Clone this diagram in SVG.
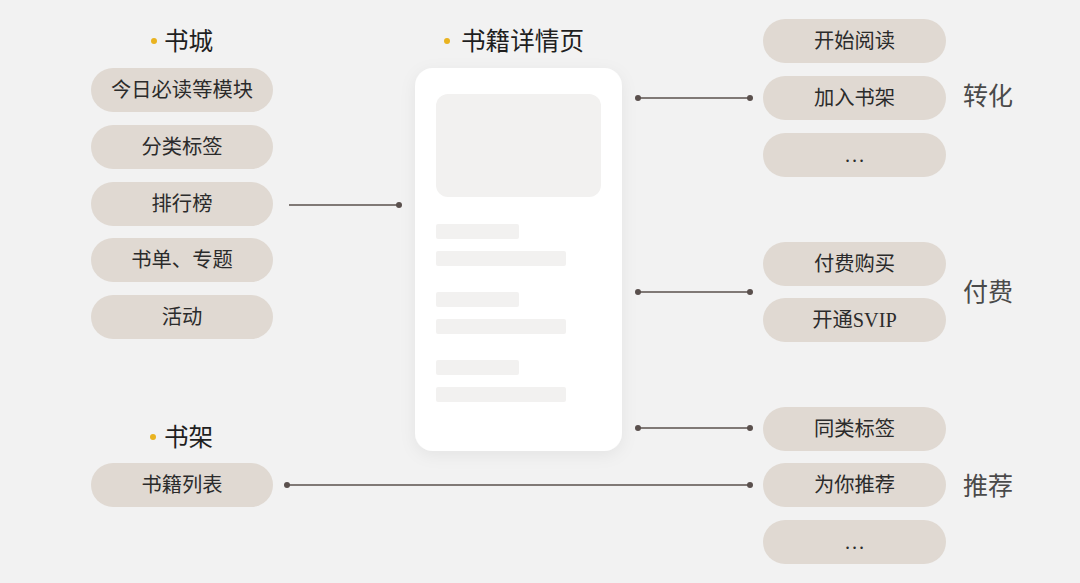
<svg xmlns="http://www.w3.org/2000/svg" width="1080" height="583" viewBox="0 0 1080 583">
<style>
  .pill { fill: #e0d9d2; }
  .pt { font-family: "Liberation Serif", "Noto Sans CJK SC", serif; font-size: 20.3px; fill: #2b2b2b; text-anchor: middle; dominant-baseline: central; }
  .dots { letter-spacing: 2px; }
  .hd { font-family: "Liberation Serif", "Noto Sans CJK SC", serif; font-size: 24.6px; fill: #1f1f1f; dominant-baseline: central; }
  .grp { font-family: "Liberation Serif", "Noto Sans CJK SC", serif; font-size: 25px; fill: #4a4a4a; dominant-baseline: central; }
  .hdot { fill: #e9b320; }
  .line { stroke: #5a504d; stroke-width: 1.5; fill: none; }
  .end { fill: #5a504d; }
  .ph { fill: #f2f1f0; }
</style>
<defs>
  <filter id="sh" x="-20%" y="-20%" width="140%" height="140%">
    <feDropShadow dx="0" dy="4" stdDeviation="8" flood-color="#000" flood-opacity="0.06"/>
  </filter>
</defs>
<rect x="0" y="0" width="1080" height="583" fill="#f2f2f2"/>

<g id="header-shucheng">
  <circle class="hdot" cx="154" cy="41" r="3"/>
  <text class="hd" x="164" y="41">书城</text>
</g>
<g id="header-detail">
  <circle class="hdot" cx="447" cy="41" r="3"/>
  <text class="hd" x="461" y="41">书籍详情页</text>
</g>
<g id="header-shujia">
  <circle class="hdot" cx="153" cy="437" r="3"/>
  <text class="hd" x="164" y="437">书架</text>
</g>

<g id="node-jinri"><rect class="pill" x="91" y="68" width="182" height="44" rx="22"/><text class="pt" x="182" y="90">今日必读等模块</text></g>
<g id="node-fenlei"><rect class="pill" x="91" y="125" width="182" height="44" rx="22"/><text class="pt" x="182" y="147">分类标签</text></g>
<g id="node-paihang"><rect class="pill" x="91" y="182" width="182" height="44" rx="22"/><text class="pt" x="182" y="204">排行榜</text></g>
<g id="node-shudan"><rect class="pill" x="91" y="238" width="182" height="44" rx="22"/><text class="pt" x="182" y="260">书单、专题</text></g>
<g id="node-huodong"><rect class="pill" x="91" y="295" width="182" height="44" rx="22"/><text class="pt" x="182" y="317">活动</text></g>
<g id="node-liebiao"><rect class="pill" x="91" y="463" width="182" height="44" rx="22"/><text class="pt" x="182" y="485">书籍列表</text></g>

<g id="node-phone">
  <rect x="415" y="68" width="207" height="383" rx="18" fill="#ffffff" filter="url(#sh)"/>
  <rect class="ph" x="436" y="94" width="165" height="103" rx="12"/>
  <rect class="ph" x="436" y="224" width="83" height="15" rx="2"/>
  <rect class="ph" x="436" y="251" width="130" height="15" rx="2"/>
  <rect class="ph" x="436" y="292" width="83" height="15" rx="2"/>
  <rect class="ph" x="436" y="319" width="130" height="15" rx="2"/>
  <rect class="ph" x="436" y="360" width="83" height="15" rx="2"/>
  <rect class="ph" x="436" y="387" width="130" height="15" rx="2"/>
</g>

<g id="node-kaishi"><rect class="pill" x="763" y="19" width="183" height="44" rx="22"/><text class="pt" x="854.5" y="41">开始阅读</text></g>
<g id="node-jiaru"><rect class="pill" x="763" y="76" width="183" height="44" rx="22"/><text class="pt" x="854.5" y="98">加入书架</text></g>
<g id="node-more1"><rect class="pill" x="763" y="133" width="183" height="44" rx="22"/><text class="pt dots" x="855.5" y="155">...</text></g>
<g id="node-goumai"><rect class="pill" x="763" y="242" width="183" height="44" rx="22"/><text class="pt" x="854.5" y="264">付费购买</text></g>
<g id="node-svip"><rect class="pill" x="763" y="298" width="183" height="44" rx="22"/><text class="pt" x="854.5" y="320">开通SVIP</text></g>
<g id="node-tonglei"><rect class="pill" x="763" y="407" width="183" height="44" rx="22"/><text class="pt" x="854.5" y="429">同类标签</text></g>
<g id="node-tuijian"><rect class="pill" x="763" y="463" width="183" height="44" rx="22"/><text class="pt" x="854.5" y="485">为你推荐</text></g>
<g id="node-more2"><rect class="pill" x="763" y="520" width="183" height="44" rx="22"/><text class="pt dots" x="855.5" y="542">...</text></g>

<g id="label-zhuanhua"><text class="grp" x="963" y="96">转化</text></g>
<g id="label-fufei"><text class="grp" x="963" y="292">付费</text></g>
<g id="label-tuijian"><text class="grp" x="963" y="486">推荐</text></g>

<g id="connectors">
  <line class="line" x1="289" y1="205" x2="399" y2="205"/>
  <circle class="end" cx="399" cy="205" r="3"/>
  <line class="line" x1="638" y1="98" x2="750" y2="98"/>
  <circle class="end" cx="638" cy="98" r="3"/>
  <circle class="end" cx="750" cy="98" r="3"/>
  <line class="line" x1="638" y1="292" x2="750" y2="292"/>
  <circle class="end" cx="638" cy="292" r="3"/>
  <circle class="end" cx="750" cy="292" r="3"/>
  <line class="line" x1="638" y1="428" x2="750" y2="428"/>
  <circle class="end" cx="638" cy="428" r="3"/>
  <circle class="end" cx="750" cy="428" r="3"/>
  <line class="line" x1="287" y1="485" x2="750" y2="485"/>
  <circle class="end" cx="287" cy="485" r="3"/>
  <circle class="end" cx="750" cy="485" r="3"/>
</g>
</svg>
